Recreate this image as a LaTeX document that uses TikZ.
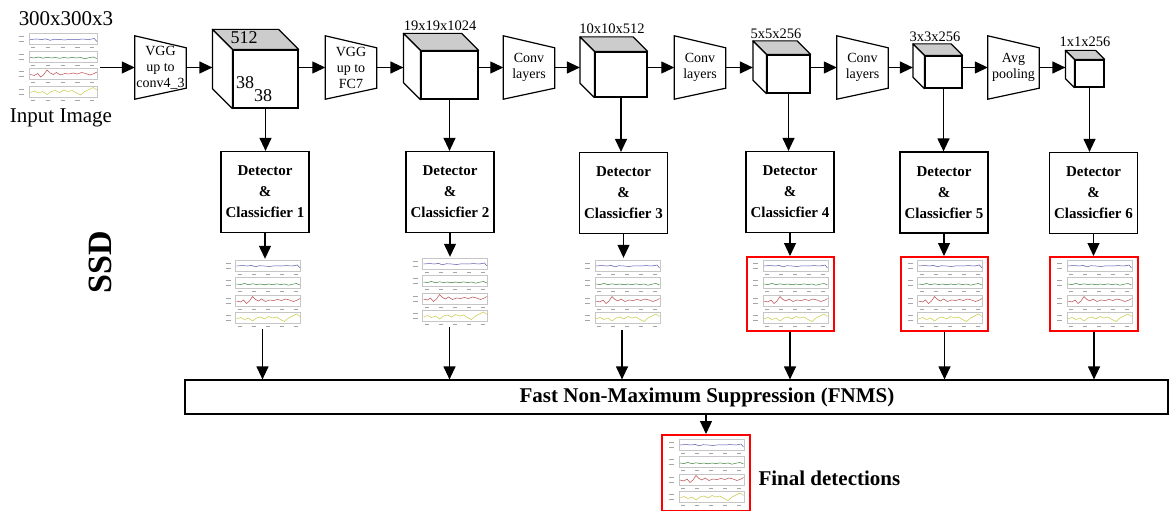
\documentclass[tikz,border=0pt]{standalone}
\usepackage{fontspec}
\setmainfont{Liberation Serif}
\usetikzlibrary{positioning,calc,arrows.meta}

\definecolor{plotblue}{RGB}{90,90,170}
\definecolor{plotgreen}{RGB}{60,130,60}
\definecolor{plotred}{RGB}{185,75,75}
\definecolor{plotyellow}{RGB}{200,200,70}

% small stacked line plots used as image thumbnails
\tikzset{
  plots/.pic={
    \foreach \k in {0,1,2,3}{
      \pgfmathsetmacro\py{-35+17.5*\k}
      \draw[gray!45, line width=0.4pt] (-27,\py+1) rectangle (38,\py+12);
      \foreach \u in {-23,-9,5,19,33}
        \draw[gray!70, line width=0.6pt] (\u-2,\py+15) -- (\u+2,\py+15);
      \draw[gray!70, line width=0.6pt] (-37,\py+4) -- (-32,\py+4) (-37,\py+9) -- (-32,\py+9);
    }
    \draw[plotblue, line width=0.5pt] plot coordinates {(-26,-28) (-20,-28.5) (-15,-28) (-11,-28.6) (-7,-27.2) (-3,-28.3) (2,-28) (7,-27.5) (12,-28.2) (18,-28) (24,-28.4) (30,-28) (35,-29) (37.5,-26)};
    \draw[plotgreen, line width=0.5pt] plot coordinates {(-26,-10) (-22,-9.5) (-18,-10.5) (-14,-9.3) (-10,-10.2) (-6,-9.5) (-2,-10) (2,-9.2) (6,-10) (10,-9.4) (14,-10.1) (18,-9.5) (22,-10) (26,-8.8) (30,-9.8) (34,-10.5) (37.5,-9)};
    \draw[plotred, line width=0.5pt] plot coordinates {(-26,7) (-22,8) (-19,6) (-16,9.5) (-13,7) (-10,2.5) (-7,5.5) (-4,7) (-1,5) (3,7.5) (7,6) (11,6.5) (15,5.5) (19,6.5) (23,5) (27,6) (31,7.5) (35,6) (37.5,4.5)};
    \draw[plotyellow, line width=0.5pt] plot coordinates {(-26,25) (-22,23.5) (-18,25.5) (-14,24) (-10,27) (-6,24) (-2,23) (2,25) (6,22.5) (10,24) (14,23) (18,25.5) (22,27.5) (26,24) (30,22) (34,20) (37.5,22.5)};
  }
}

% trapezoid stage: name, centre x, text
\newcommand{\trapstage}[3]{%
  \node[stage] (#1) at (#2,67.5) {#3};
  \draw[wire] (#1.north west) -- ([yshift=-12pt]#1.north east) -- ([yshift=11pt]#1.south east) -- (#1.south west) -- cycle;}

% feature map cube: name, centre x, centre y, width, height, depth
\newcommand{\block}[6]{%
  \node[face, minimum width=#4, minimum height=#5] (#1) at (#2,#3) {};
  \draw[wire, fill=gray!40, line join=round] (#1.north west) -- ++(-#6,-#6) -- ([shift={(-#6,-#6)}]#1.north east) -- (#1.north east) -- cycle;
  \draw[wire, fill=white, line join=round] (#1.north west) -- ++(-#6,-#6) -- ([shift={(-#6,-#6)}]#1.south west) -- (#1.south west) -- cycle;
  \coordinate (#1-in) at ([xshift=-#6pt]#1.west);}

\begin{document}
\begin{tikzpicture}[
    x=1pt, y=-1pt,
    wire/.style={line width=1.2pt},
    arrow/.style={-{Triangle[length=13pt,width=12pt]}, line width=1.2pt},
    stage/.style={minimum width=51, minimum height=63, inner sep=0pt, align=center, font=\fontsize{14}{16}\selectfont},
    face/.style={draw, line width=1.2pt, fill=white, inner sep=0pt},
    dims/.style={font=\fontsize{14.5}{16}\selectfont},
    big/.style={font=\fontsize{18}{18}\selectfont},
    detector/.style={draw, line width=1.2pt, minimum width=88, minimum height=81, align=center, font=\fontsize{15}{21}\selectfont\bfseries},
    chartbox/.style={minimum width=81, minimum height=70, inner sep=0pt},
    redchart/.style={chartbox, draw=red, line width=2pt, minimum width=87, minimum height=74},
    title/.style={font=\fontsize{21}{21}\selectfont\bfseries}
]
\useasboundingbox (0,0) rectangle (1170,511);

% input image
\node[chartbox, minimum width=85, minimum height=72] (input) at (57.5,67.5) {};
\pic[xscale=1.05] at (input) {plots};
\node[font=\fontsize{21}{21}\selectfont] (insize) at (66,19) {300x300x3};
\node[font=\fontsize{21}{21}\selectfont] (inname) at (61,118) {Input Image};

% backbone
\trapstage{vgg1}{160.5}{VGG\\up to\\conv4\_3}
\block{c1}{265.5}{79}{65}{58}{20}
\trapstage{vgg2}{351}{VGG\\up to\\FC7}
\block{c2}{449.5}{75}{57}{48}{17}
\trapstage{conv1}{529}{Conv\\layers}
\block{c3}{621}{74.5}{52}{45}{14.5}
\trapstage{conv2}{700}{Conv\\layers}
\block{c4}{788.5}{74}{43}{38}{13.5}
\trapstage{conv3}{862.5}{Conv\\layers}
\block{c5}{943.5}{72}{37}{32}{11.5}
\trapstage{pool}{1013.5}{Avg\\pooling}
\block{c6}{1089.5}{73.5}{29}{27}{9}

% cube sizes
\node[big] (c1top) at (244,38) {512};
\node[big] (c1h) at (245,83) {38};
\node[big] (c1w) at (263,96) {38};
\node[dims] (c2lbl) at (440,26) {19x19x1024};
\node[dims] (c3lbl) at (612,29) {10x10x512};
\node[dims] (c4lbl) at (776,34) {5x5x256};
\node[dims] (c5lbl) at (935,37) {3x3x256};
\node[dims] (c6lbl) at (1085,42) {1x1x256};

% backbone flow
\draw[arrow] (input) -- (input -| vgg1.west);
\draw[arrow] (vgg1) -- (vgg1 -| c1-in);
\draw[arrow] (vgg2 -| c1.east) -- (vgg2);
\draw[arrow] (vgg2) -- (vgg2 -| c2-in);
\draw[arrow] (conv1 -| c2.east) -- (conv1);
\draw[arrow] (conv1) -- (conv1 -| c3-in);
\draw[arrow] (conv2 -| c3.east) -- (conv2);
\draw[arrow] (conv2) -- (conv2 -| c4-in);
\draw[arrow] (conv3 -| c4.east) -- (conv3);
\draw[arrow] (conv3) -- (conv3 -| c5-in);
\draw[arrow] (pool -| c5.east) -- (pool);
\draw[arrow] (pool) -- (pool -| c6-in);

% detectors
\node[detector] (det1) at (265,192) {Detector\\\&\\Classicfier 1};
\node[detector] (det2) at (450,192) {Detector\\\&\\Classicfier 2};
\node[detector] (det3) at (623.5,193) {Detector\\\&\\Classicfier 3};
\node[detector] (det4) at (790,192) {Detector\\\&\\Classicfier 4};
\node[detector] (det5) at (944,192.5) {Detector\\\&\\Classicfier 5};
\node[detector] (det6) at (1093.5,193) {Detector\\\&\\Classicfier 6};

% detections per scale
\node[chartbox] (out1) at (262.5,294) {};
\node[chartbox, minimum width=77] (out2) at (449.5,292) {};
\node[chartbox, minimum height=72] (out3) at (622,294) {};
\node[redchart] (out4) at (790,294) {};
\node[redchart] (out5) at (944.5,294) {};
\node[redchart, minimum width=88] (out6) at (1094,294) {};
\foreach \o in {out1,out2,out3,out4,out5,out6}
  \pic at (\o) {plots};

\node[draw, wire, minimum width=983, minimum height=34] (fnms) at (676.5,397) {};
\node[title] (fnmstext) at (707,397) {Fast Non-Maximum Suppression (FNMS)};

\node[redchart, minimum width=88, minimum height=76] (final) at (706,473) {};
\pic at (final) {plots};
\node[title, anchor=west] (finaltext) at (755,478) {Final detections};

\node[rotate=90, font=\fontsize{34}{34}\selectfont\bfseries] (ssd) at (100,262) {SSD};

% vertical flow
\foreach \i in {1,...,6}{
  \draw[arrow] (c\i) -- (c\i |- det\i.north);
  \draw[arrow] (det\i) -- (det\i |- out\i.north);
  \draw[arrow] (out\i) -- (out\i |- fnms.north);
}
\draw[arrow] (fnms.south -| final) -- (final);

\end{tikzpicture}
\end{document}
